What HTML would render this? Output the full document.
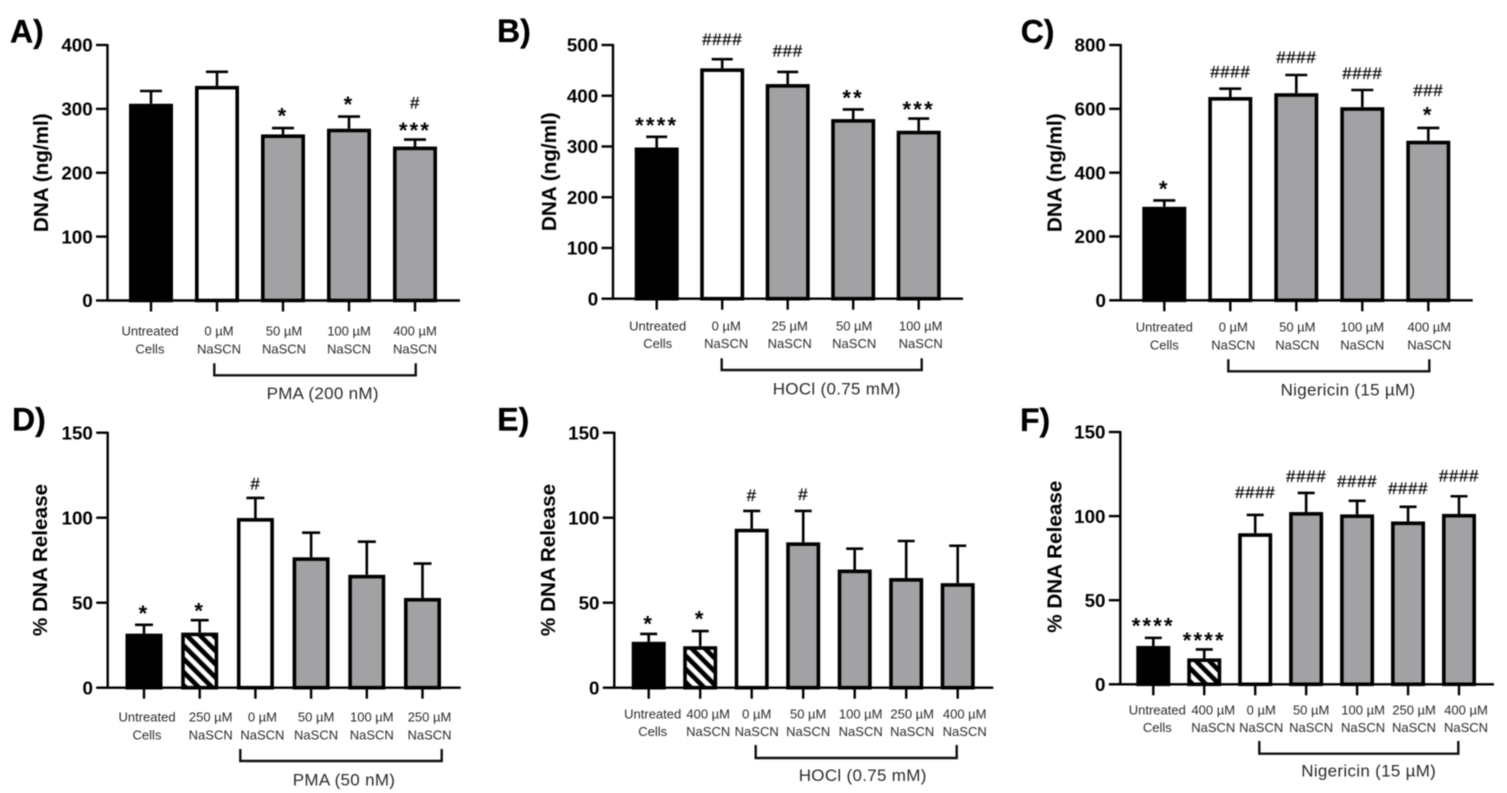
<!DOCTYPE html>
<html lang="en">
<head>
<meta charset="utf-8">
<title>DNA release panels A–F</title>
<style>
html,body{margin:0;padding:0;background:#fff;width:1507px;height:793px;overflow:hidden}
svg{display:block;filter:blur(0.45px)}
text{font-family:"Liberation Sans",Arial,sans-serif}
</style>
</head>
<body>
<svg id="figure" xmlns="http://www.w3.org/2000/svg" width="1507" height="793" viewBox="0 0 1507 793">
<defs>
<pattern id="hatch" patternUnits="userSpaceOnUse" width="9.4" height="9.4" patternTransform="rotate(-45)">
<rect width="9.4" height="9.4" fill="#fff"/>
<rect width="4.7" height="9.4" fill="#000"/>
</pattern>
</defs>
</svg>
<script>
// Panel A
const categoriesA = ['Untreated|Cells','0 µM|NaSCN','50 µM|NaSCN','100 µM|NaSCN','400 µM|NaSCN'];
const fillsA = ['black','white','gray','gray','gray'];
const valuesA = [308,336,260,269,241];
const errorsA = [20,22,10,19,11];
const ticksA = [0,100,200,300,400];
const starsA = ['','','*','*','***'];
const hashesA = ['','','','','#'];
// Panel B
const categoriesB = ['Untreated|Cells','0 µM|NaSCN','25 µM|NaSCN','50 µM|NaSCN','100 µM|NaSCN'];
const fillsB = ['black','white','gray','gray','gray'];
const valuesB = [298,454,423,354,331];
const errorsB = [21,18,24,19,24];
const ticksB = [0,100,200,300,400,500];
const starsB = ['****','','','**','***'];
const hashesB = ['','####','###','',''];
// Panel C
const categoriesC = ['Untreated|Cells','0 µM|NaSCN','50 µM|NaSCN','100 µM|NaSCN','400 µM|NaSCN'];
const fillsC = ['black','white','gray','gray','gray'];
const valuesC = [293,637,649,605,500];
const errorsC = [20,26,57,54,40];
const ticksC = [0,200,400,600,800];
const starsC = ['*','','','','*'];
const hashesC = ['','####','####','####','###'];
// Panel D
const categoriesD = ['Untreated|Cells','250 µM|NaSCN','0 µM|NaSCN','50 µM|NaSCN','100 µM|NaSCN','250 µM|NaSCN'];
const fillsD = ['black','hatch','white','gray','gray','gray'];
const valuesD = [31.8,32.4,99.8,76.7,66.4,52.8];
const errorsD = [5.2,7.3,11.8,14.5,19.5,20.2];
const ticksD = [0,50,100,150];
const starsD = ['*','*','','','',''];
const hashesD = ['','','#','','',''];
// Panel E
const categoriesE = ['Untreated|Cells','400 µM|NaSCN','0 µM|NaSCN','50 µM|NaSCN','100 µM|NaSCN','250 µM|NaSCN','400 µM|NaSCN'];
const fillsE = ['black','hatch','white','gray','gray','gray','gray'];
const valuesE = [27,24.4,93.5,85.5,69.5,64.5,61.5];
const errorsE = [4.6,8.9,10.5,18.5,12.3,21.8,22];
const ticksE = [0,50,100,150];
const starsE = ['*','*','','','','',''];
const hashesE = ['','','#','#','','',''];
// Panel F
const categoriesF = ['Untreated|Cells','400 µM|NaSCN','0 µM|NaSCN','50 µM|NaSCN','100 µM|NaSCN','250 µM|NaSCN','400 µM|NaSCN'];
const fillsF = ['black','hatch','white','gray','gray','gray','gray'];
const valuesF = [22.8,15.4,89.8,102.4,101,96.8,101.3];
const errorsF = [4.8,5.3,10.9,11.4,8.1,8.7,10.5];
const ticksF = [0,50,100,150];
const starsF = ['****','****','','','','',''];
const hashesF = ['','','####','####','####','####','####'];

const panels = [
  {id:'a',letter:'A)',lx:10,ly:42.5,yTitle:'DNA (ng/ml)',tx:41.7,ty:172.7,x0:107.5,xEnd:460,y0:300.5,yTop:45,first:151,step:66,bw:44,cap:22,
   cats:categoriesA,fills:fillsA,vals:valuesA,errs:errorsA,ticks:ticksA,stars:starsA,hashes:hashesA,
   starGap:[0,0,17,17,14],hashGap:[0,0,0,0,37],nudge:[-1,2,1,0,0],b1:335.7,b2:353.3,
   br:{from:1,to:4,x1:214.3,x2:415.7,top:363.3,bot:375.3,label:'PMA (200 nM)',cx:322.7,base:399}},
  {id:'b',letter:'B)',lx:497,ly:42,yTitle:'DNA (ng/ml)',tx:549.3,ty:171.7,x0:613,xEnd:963,y0:298.7,yTop:45,first:656.7,step:65.5,bw:44,cap:21,
   cats:categoriesB,fills:fillsB,vals:valuesB,errs:errorsB,ticks:ticksB,stars:starsB,hashes:hashesB,
   starGap:[16,0,0,16,14],hashGap:[0,20,21.6,0,0],nudge:[1,4,2,1,2],b1:330.5,b2:348.2,
   br:{x1:721.7,x2:921.7,top:358.3,bot:370,label:'HOCl (0.75 mM)',cx:836.7,base:394.3}},
  {id:'c',letter:'C)',lx:1020.7,ly:42.5,yTitle:'DNA (ng/ml)',tx:1055,ty:172.7,x0:1120.7,xEnd:1472.7,y0:300.3,yTop:45,first:1164.3,step:66,bw:44,cap:22,
   cats:categoriesC,fills:fillsC,vals:valuesC,errs:errorsC,ticks:ticksC,stars:starsC,hashes:hashesC,
   starGap:[16,0,0,0,18],hashGap:[0,17,18,17,38],nudge:[0,3,1,0,1],b1:331.7,b2:349.3,
   br:{x1:1228.3,x2:1429.3,top:359.3,bot:371.3,label:'Nigericin (15 µM)',cx:1348,base:395.3}},
  {id:'d',letter:'D)',lx:12,ly:430.7,yTitle:'% DNA Release',tx:40.7,ty:560,x0:107.7,xEnd:460.7,y0:687.7,yTop:432.7,first:144,step:55.7,bw:37,cap:18,
   cats:categoriesD,fills:fillsD,vals:valuesD,errs:errorsD,ticks:ticksD,stars:starsD,hashes:hashesD,
   starGap:[16,14,0,0,0,0],hashGap:[0,0,14.3,0,0,0],nudge:[3,11,7,5,5,7],b1:721.7,b2:739.3,
   br:{x1:240.3,x2:441.7,top:749,bot:761,label:'PMA (50 nM)',cx:344,base:785.3}},
  {id:'e',letter:'E)',lx:497.3,ly:430.7,yTitle:'% DNA Release',tx:548.3,ty:560,x0:614.3,xEnd:993.3,y0:687.7,yTop:432.7,first:648.7,step:51.5,bw:34,cap:17,
   cats:categoriesE,fills:fillsE,vals:valuesE,errs:errorsE,ticks:ticksE,stars:starsE,hashes:hashesE,
   starGap:[15,17,0,0,0,0,0],hashGap:[0,0,16,16.7,0,0,0],nudge:[4,8,5,5,6,6,7],b1:718.3,b2:736,
   br:{x1:755.7,x2:956.7,top:745,bot:758,label:'HOCl (0.75 mM)',cx:862.7,base:781}},
  {id:'f',letter:'F)',lx:1020,ly:431,yTitle:'% DNA Release',tx:1055,ty:556.7,x0:1120.3,xEnd:1494,y0:684.3,yTop:432,first:1153.3,step:50.95,bw:34,cap:17,
   cats:categoriesF,fills:fillsF,vals:valuesF,errs:errorsF,ticks:ticksF,stars:starsF,hashes:hashesF,
   starGap:[16.7,14,0,0,0,0,0],hashGap:[0,0,23,17,20,19,20.7],nudge:[4,9,6,5,6,6,7],b1:714.7,b2:732,
   br:{x1:1259.3,x2:1458.3,top:741,bot:753.7,label:'Nigericin (15 µM)',cx:1368.7,base:776.7}}
];

const NS = 'http://www.w3.org/2000/svg';
const figure = document.getElementById('figure');
const FILL = {black:'#000', white:'#fff', gray:'#a2a2a5', hatch:'url(#hatch)'};

function mk(parent, tag, attrs, txt){
  const e = document.createElementNS(NS, tag);
  for (const k in attrs) e.setAttribute(k, attrs[k]);
  if (txt !== undefined) e.textContent = txt;
  parent.appendChild(e);
  return e;
}

panels.forEach(function(p){
  const maxTick = p.ticks[p.ticks.length - 1];
  const yScale = function(v){ return p.y0 - (v / maxTick) * (p.y0 - p.yTop); };
  const xScale = function(i){ return p.first + i * p.step; };

  const g = mk(figure, 'g', {});
  
  

  let el = mk(g, 'text', {x:p.lx, y:p.ly, 'font-size':32, 'font-weight':'bold', fill:'#000', stroke:'#000', 'stroke-width':0.3}, p.letter);
  
  

  el = mk(g, 'text', {transform:'translate(' + p.tx + ',' + p.ty + ') rotate(-90)', 'text-anchor':'middle', 'dominant-baseline':'central', 'font-size':20.7, 'font-weight':'bold', fill:'#000'}, p.yTitle);
  
  

  p.cats.forEach(function(cat, i){
    const cx = xScale(i);
    const top = yScale(p.vals[i]);
    const errTop = yScale(p.vals[i] + p.errs[i]);

    el = mk(g, 'line', {x1:cx, x2:cx, y1:top, y2:errTop, stroke:'#000', 'stroke-width':2.6});
    
    

    el = mk(g, 'line', {x1:cx - p.cap / 2, x2:cx + p.cap / 2, y1:errTop, y2:errTop, stroke:'#000', 'stroke-width':2.6});
    
    

    el = mk(g, 'rect', {x:cx - p.bw / 2 + 1.8, y:top + 1.8, width:p.bw - 3.6, height:Math.max(0, p.y0 - top - 1.8), fill:FILL[p.fills[i]], stroke:'#000', 'stroke-width':3.6});
    
    

    el = mk(g, 'line', {x1:cx, x2:cx, y1:p.y0, y2:p.y0 + 11, stroke:'#000', 'stroke-width':2.4});
    
    

    const lines = cat.split('|');
    el = mk(g, 'text', {x:cx + p.nudge[i], y:p.b1, 'text-anchor':'middle', 'font-size':13, fill:'#2a2a2a'}, lines[0]);
    
    

    el = mk(g, 'text', {x:cx + p.nudge[i], y:p.b2, 'text-anchor':'middle', 'font-size':13, fill:'#2a2a2a'}, lines[1]);
    
    

    if (p.stars[i]) {
      el = mk(g, 'text', {x:cx, y:errTop - p.starGap[i] + 12.3, 'text-anchor':'middle', 'font-size':22, 'font-weight':'bold', 'letter-spacing':2.2, fill:'#000'}, p.stars[i]);
      
      
    }
    if (p.hashes[i]) {
      el = mk(g, 'text', {x:cx, y:errTop - p.hashGap[i] + 6, 'text-anchor':'middle', 'font-size':17, 'letter-spacing':0.6, fill:'#000', stroke:'#000', 'stroke-width':0.25}, p.hashes[i]);
      
      
    }
  });

  el = mk(g, 'line', {x1:p.x0, x2:p.x0, y1:p.yTop - 1, y2:p.y0 + 1, stroke:'#000', 'stroke-width':2.4});
  
  

  el = mk(g, 'line', {x1:p.x0, x2:p.xEnd, y1:p.y0, y2:p.y0, stroke:'#000', 'stroke-width':2.4});
  
  

  p.ticks.forEach(function(t){
    const y = yScale(t);
    el = mk(g, 'line', {x1:p.x0 - 11.5, x2:p.x0, y1:y, y2:y, stroke:'#000', 'stroke-width':2.4});
    
    

    el = mk(g, 'text', {x:p.x0 - 14.8, y:y + 6.7, 'text-anchor':'end', 'font-size':18.8, 'font-weight':'bold', fill:'#000'}, String(t));
    
    
  });

  const b = p.br;
  el = mk(g, 'polyline', {points:b.x1 + ',' + b.top + ' ' + b.x1 + ',' + b.bot + ' ' + b.x2 + ',' + b.bot + ' ' + b.x2 + ',' + b.top, fill:'none', stroke:'#111', 'stroke-width':2.4});
  
  

  el = mk(g, 'text', {x:b.cx, y:b.base, 'text-anchor':'middle', 'font-size':17, 'letter-spacing':0.3, fill:'#2a2a2a'}, b.label);
  
  
});
</script>
</body>
</html>
